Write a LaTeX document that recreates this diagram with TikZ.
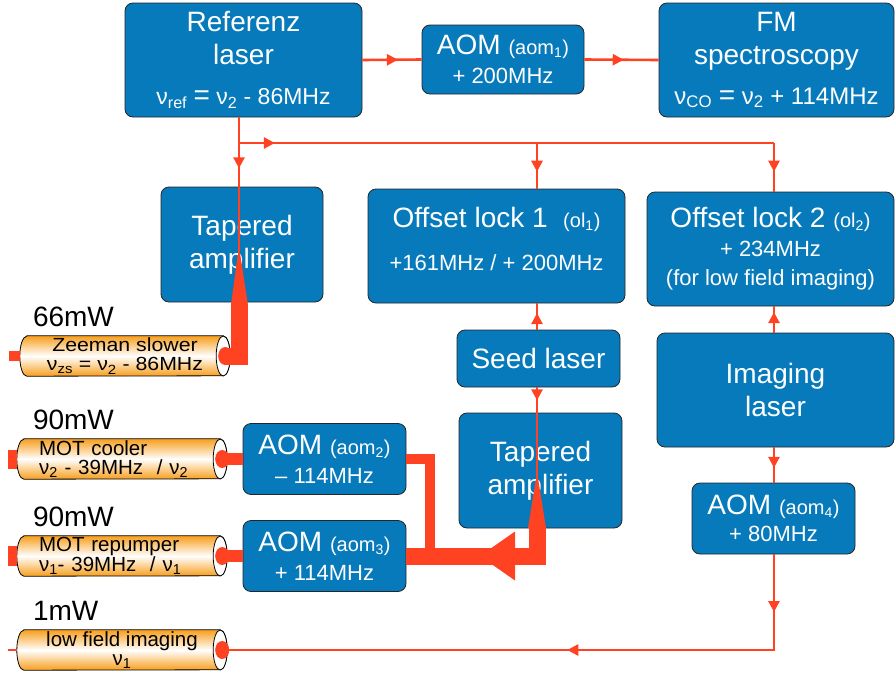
\documentclass[tikz,border=0pt]{standalone}
\usepackage{fontspec}
\setmainfont{Liberation Sans}
\newfontfamily\anchafont[FakeStretch=1.12]{Liberation Sans}
\usetikzlibrary{arrows.meta,decorations.markings,backgrounds,calc}

\definecolor{azulcaja}{RGB}{6,122,187}
\definecolor{rojohaz}{RGB}{255,66,34}
\definecolor{naranjafibra}{RGB}{248,158,28}

\newcommand{\fs}[2]{\fontsize{#1}{#2}\selectfont}
\newcommand{\sbs}[1]{\textsubscript{#1}}

% Fibra: cilindro naranja detrás del nodo #1
\newcommand{\fibra}[1]{%
  \begin{scope}[on background layer]
    \shade[top color=naranjafibra, bottom color=naranjafibra, middle color=white,
           draw=black, line width=0.8pt]
      ([xshift=7pt]#1.north west) -- ([xshift=-7pt]#1.north east)
      arc[start angle=90, end angle=-90, x radius=7pt, y radius=20pt]
      -- ([xshift=7pt]#1.south west)
      arc[start angle=270, end angle=90, x radius=7pt, y radius=20pt] -- cycle;
    \draw[fill=white, line width=0.8pt] ([xshift=-7pt]#1.east)
      ellipse[x radius=7pt, y radius=20pt];
    \fill[rojohaz] ([xshift=-5pt]#1.east) ellipse[x radius=7pt, y radius=9pt];
  \end{scope}}

\begin{document}
\begin{tikzpicture}[x=1pt, y=-1pt,
    caja/.style={draw=black!85, line width=0.8pt, fill=azulcaja, rounded corners=8pt,
                 text=white, align=center, inner sep=0pt, font=\fs{28}{33}},
    aom/.style={caja, minimum width=163pt, minimum height=71pt, font=\fs{28}{29}},
    haz/.style={draw=rojohaz, line width=2.6pt},
    hazgrueso/.style={draw=rojohaz, line width=#1, line join=miter},
    flecha/.style={postaction={decorate, decoration={markings,
        mark=at position #1 with {\arrow[rojohaz]{Triangle[length=11pt, width=11pt]}}}}},
    fibra/.style={minimum width=210pt, minimum height=40pt, inner sep=0pt, font=\fs{20.5}{19.5}},
    potencia/.style={anchor=south west, inner sep=0pt, font=\fs{28}{30}}]
  \useasboundingbox (0,0) rectangle (895,675);

  % Láseres y moduladores
  \node[caja, minimum width=237pt, minimum height=114pt] (ref) at (243.5,60)
    {Referenz\\laser\\[7pt]\fs{23}{26}ν\sbs{ref} {\fs{28}{28}=} ν\sbs{2} - 86MHz};
  \node[aom, minimum width=162pt, minimum height=69pt] (aom1) at (503,59.5)
    {AOM {\fs{20}{24}(aom\sbs{1})}\\\fs{22}{26}+ 200MHz};
  \node[caja, minimum width=235pt, minimum height=114pt] (fms) at (776.5,60)
    {FM\\spectroscopy\\[7pt]\fs{24}{26}ν\sbs{CO} {\fs{28}{28}=} ν\sbs{2} + 114MHz};
  \node[caja, minimum width=162pt, minimum height=115pt] (ta1) at (242,244.5)
    {Tapered\\amplifier};
  \node[caja, minimum width=257pt, minimum height=114pt, text depth=15pt] (ol1) at (496.5,246)
    {Offset lock 1 \ {\fs{20}{24}(ol\sbs{1})}\\[10pt]\fs{22}{26}+161MHz / + 200MHz};
  \node[caja, minimum width=247pt, minimum height=114pt, font=\fs{28}{29}] (ol2) at (770.5,249)
    {Offset lock 2 {\fs{20}{24}(ol\sbs{2})}\\\fs{22}{26}+ 234MHz\\\fs{22}{26}(for low field imaging)};
  \node[caja, minimum width=163pt, minimum height=57pt] (seed) at (538.5,358.5)
    {Seed laser};
  \node[caja, minimum width=237pt, minimum height=114pt] (img) at (775.5,390)
    {Imaging\\laser};
  \node[caja, minimum width=163pt, minimum height=115pt] (ta2) at (540.5,470.5)
    {Tapered\\amplifier};
  \node[aom] (aom2) at (324.5,459)
    {AOM {\fs{20}{24}(aom\sbs{2})}\\\fs{22}{26}– 114MHz};
  \node[aom] (aom3) at (324.5,556)
    {AOM {\fs{20}{24}(aom\sbs{3})}\\\fs{22}{26}+ 114MHz};
  \node[aom, font=\fs{28}{27}] (aom4) at (773.5,518.5)
    {AOM {\fs{20}{24}(aom\sbs{4})}\\\fs{22}{26}+ 80MHz};

  % Fibras
  \node[fibra, align=center, font=\anchafont\fs{19}{19.5}] (zs) at (125,356)
    {Zeeman slower\\ν\sbs{zs} = ν\sbs{2} - 86MHz};
  \node[fibra, align=left, text width=166pt] (cool) at (122,459)
    {MOT cooler\\ν\sbs{2} - 39MHz \ / ν\sbs{2}};
  \node[fibra, align=left, text width=166pt] (rep) at (122,556)
    {MOT repumper\\ν\sbs{1}- 39MHz \ / ν\sbs{1}};
  \node[fibra, align=center] (lfi) at (122,650)
    {low field imaging\\ν\sbs{1}};
  \fibra{zs}
  \fibra{cool}
  \fibra{rep}
  \fibra{lfi}
  \node[potencia] (pzs) at ([xshift=13pt, yshift=9pt]zs.north west) {66mW};
  \node[potencia] (pcool) at ([xshift=16pt, yshift=9pt]cool.north west) {90mW};
  \node[potencia] (prep) at ([xshift=16pt, yshift=9pt]rep.north west) {90mW};
  \node[potencia] (plfi) at ([xshift=16pt, yshift=9pt]lfi.north west) {1mW};

  % Puntos de paso de los haces
  \coordinate (bif) at (239,143);
  \coordinate (colM) at (537,143);
  \coordinate (colD) at (774,143);
  \coordinate (conoA) at (239,255);
  \coordinate (conoB) at (537,480);
  \coordinate (punta) at (480,556);
  \coordinate (horq) at (430,565);

  % Haces finos
  \draw[haz, flecha=0.6] (ref.east) -- (aom1.west);
  \draw[haz, flecha=0.53] (aom1.east) -- (fms.west);
  \draw[haz, flecha=0.37] (bif |- ref.south) -- (conoA);
  \draw[haz, flecha=0.067] (bif) -- (colD);
  \draw[haz, flecha=0.63] (colM) -- (colM |- ol1.north);
  \draw[haz, flecha=0.59] (colD) -- (colD |- ol2.north);
  \draw[haz, flecha=0.63] (colM |- seed.north) -- (colM |- ol1.south);
  \draw[haz, flecha=0.78] (colD |- img.north) -- (colD |- ol2.south);
  \draw[haz, flecha=0.14] (colM |- seed.south) -- (conoB);
  \draw[haz, flecha=0.58] (colD |- img.south) -- (colD |- aom4.north);
  \draw[haz, flecha=0.089, flecha=0.467] (colD |- aom4.south) |- ([xshift=-5pt]lfi.east);

  % Haces amplificados
  \fill[rojohaz] ($(conoA)+(-1.3,0)$) -- ($(conoA)+(1.3,0)$) -- ($(conoA)+(9,50)$)
    -- ($(conoA)+(-8,50)$) -- cycle;
  \draw[hazgrueso=17pt] ($(conoA)+(0.5,49)$) |- ([xshift=-5pt]zs.east);
  \fill[rojohaz] ($(conoB)+(-1.3,0)$) -- ($(conoB)+(1.3,0)$) -- ($(conoB)+(9,48)$)
    -- ($(conoB)+(-9,48)$) -- cycle;
  \draw[hazgrueso=17pt] ($(conoB)+(0,47)$) |- (aom3.east);
  \draw[hazgrueso=10pt] (aom2.east) -| (horq);
  \fill[rojohaz] (punta) -- ++(35,-24.5) -- ++(0,49) -- cycle;
  \draw[hazgrueso=12pt] (aom2.west) -- ([xshift=-5pt]cool.east);
  \draw[hazgrueso=12pt] (aom3.west) -- ([xshift=-5pt]rep.east);

  % Entradas de las fibras
  \draw[hazgrueso=10pt] (zs.west) -- ++(-11,0);
  \draw[hazgrueso=19pt] (cool.west) -- ++(-9,0);
  \draw[hazgrueso=20pt] (rep.west) -- ++(-9,0);
  \draw[haz] (lfi.west) -- ++(-9,0);
\end{tikzpicture}
\end{document}
